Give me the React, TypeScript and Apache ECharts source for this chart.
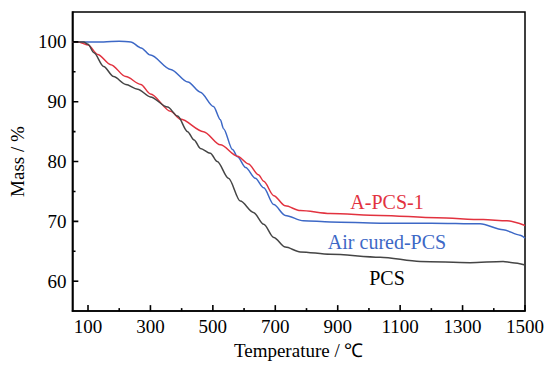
import React, { useEffect, useRef } from "react";
import * as echarts from "echarts";

const pcsTemp = [50, 86, 100, 119, 150, 182, 221, 259, 300, 355, 387, 419, 440, 460, 492, 514, 550, 588, 630, 663, 695, 732, 780, 876, 1036, 1164, 1324, 1430, 1460, 1500];
const pcsMass = [100, 100, 99.6, 98.2, 95.9, 94.2, 92.9, 92.1, 90.8, 89.1, 87.6, 85.0, 83.6, 82.2, 81.4, 80.0, 77.2, 73.4, 71.5, 69.5, 67.3, 65.7, 64.9, 64.5, 64.0, 63.3, 63.1, 63.3, 63.1, 62.7];

const apcsTemp = [50, 67, 100, 131, 173, 221, 269, 300, 365, 396, 470, 524, 579, 614, 646, 663, 695, 732, 780, 876, 1036, 1218, 1366, 1442, 1500];
const apcsMass = [100, 100, 99.5, 97.9, 96.2, 94.2, 92.9, 91.3, 88.4, 87.1, 85.0, 82.8, 80.9, 79.6, 77.8, 76.7, 74.3, 72.6, 71.8, 71.3, 71.0, 70.6, 70.3, 70.1, 69.3];

const airTemp = [50, 150, 200, 237, 270, 300, 365, 420, 460, 502, 524, 534, 563, 579, 605, 636, 663, 695, 732, 790, 876, 1036, 1200, 1356, 1430, 1484, 1500];
const airMass = [100, 100, 100.1, 100, 99.0, 97.8, 95.4, 93.3, 91.6, 89.2, 87.0, 85.5, 82.0, 80.8, 79.0, 77.2, 75.6, 72.8, 71.0, 70.1, 69.9, 69.7, 69.7, 69.6, 68.6, 67.7, 67.2];

const xMajorTicks = [100, 300, 500, 700, 900, 1100, 1300, 1500];
const xMinorTicks = [200, 400, 600, 800, 1000, 1200, 1400];
const yMajorTicks = [60, 70, 80, 90, 100];
const yMinorTicks = [65, 75, 85, 95];

const seriesNames = ["PCS", "A-PCS-1", "Air cured-PCS"];
const seriesColors = ["#454545", "#e2323f", "#3d68c6"];

const X_MIN = 50;
const X_MAX = 1500;
const Y_MIN = 55;
const Y_MAX = 105;

// tick lengths expressed in axis units (about 6 px major, 3 px minor)
const X_TICK_MAJOR = 1.0;
const X_TICK_MINOR = 0.5;
const Y_TICK_MAJOR = 19;
const Y_TICK_MINOR = 10;

const FONT = "Times New Roman, Liberation Serif, serif";

const zip = (a: number[], b: number[]) => a.map((v, i) => [v, b[i]]);

function tickLines(values: number[], dir: "x" | "y", len: number) {
  return values.map((v) => ({
    type: "line",
    silent: true,
    symbol: "none",
    showSymbol: false,
    z: 10,
    lineStyle: { color: "#000", width: 1.6 },
    data: dir === "x" ? [[v, Y_MIN], [v, Y_MIN + len]] : [[X_MIN, v], [X_MIN + len, v]],
  }));
}

export default function App() {
  const ref = useRef<HTMLDivElement>(null);
  useEffect(() => {
    if (!ref.current) return;
    const chart = echarts.init(ref.current, undefined, { renderer: "svg" });
    const axisLabelStyle = { color: "#000", fontFamily: FONT, fontSize: 19, formatter: (v: number) => String(v) };
    const datasets = [zip(pcsTemp, pcsMass), zip(apcsTemp, apcsMass), zip(airTemp, airMass)];
    chart.setOption({
      animation: false,
      backgroundColor: "#fff",
      textStyle: { fontFamily: FONT },
      grid: {
        left: 71,
        top: 12,
        right: 30,
        bottom: 50,
        show: true,
        borderColor: "#000",
        borderWidth: 1.5,
      },
      xAxis: {
        type: "value",
        min: X_MIN,
        max: X_MAX,
        position: "bottom",
        name: "Temperature / ℃",
        nameLocation: "middle",
        nameGap: 28,
        nameTextStyle: { color: "#000", fontFamily: FONT, fontSize: 19 },
        axisLine: { show: true, lineStyle: { color: "#000", width: 1.5 } },
        axisTick: { show: false },
        axisLabel: { show: true, margin: 6, customValues: xMajorTicks, ...axisLabelStyle },
        splitLine: { show: false },
      },
      yAxis: {
        type: "value",
        min: Y_MIN,
        max: Y_MAX,
        position: "left",
        name: "Mass / %",
        nameLocation: "middle",
        nameGap: 35,
        nameTextStyle: { color: "#000", fontFamily: FONT, fontSize: 19 },
        axisLine: { show: true, lineStyle: { color: "#000", width: 1.5 } },
        axisTick: { show: false },
        axisLabel: { show: true, margin: 6, customValues: yMajorTicks, ...axisLabelStyle },
        splitLine: { show: false },
      },
      series: [
        ...datasets.map((d, i) => ({
          name: seriesNames[i],
          type: "line",
          data: d,
          showSymbol: false,
          smooth: 0.3,
          smoothMonotone: "x",
          lineStyle: { color: seriesColors[i], width: 1.5 },
          itemStyle: { color: seriesColors[i] },
          z: 3 - i,
        })),
        ...tickLines(xMajorTicks, "x", X_TICK_MAJOR),
        ...tickLines(xMinorTicks, "x", X_TICK_MINOR),
        ...tickLines(yMajorTicks, "y", Y_TICK_MAJOR),
        ...tickLines(yMinorTicks, "y", Y_TICK_MINOR),
      ],
      graphic: [
        { type: "text", x: 387, y: 202, style: { text: "A-PCS-1", fill: seriesColors[1], fontSize: 20, fontFamily: FONT, textAlign: "center", textVerticalAlign: "middle" } },
        { type: "text", x: 387, y: 242, style: { text: "Air cured-PCS", fill: seriesColors[2], fontSize: 20, fontFamily: FONT, textAlign: "center", textVerticalAlign: "middle" } },
        { type: "text", x: 387, y: 278, style: { text: "PCS", fill: "#000", fontSize: 20, fontFamily: FONT, textAlign: "center", textVerticalAlign: "middle" } },
      ],
    });
    return () => chart.dispose();
  }, []);
  return <div ref={ref} style={{ width: 555, height: 365, position: "absolute", left: 0, top: 0 }} />;
}
